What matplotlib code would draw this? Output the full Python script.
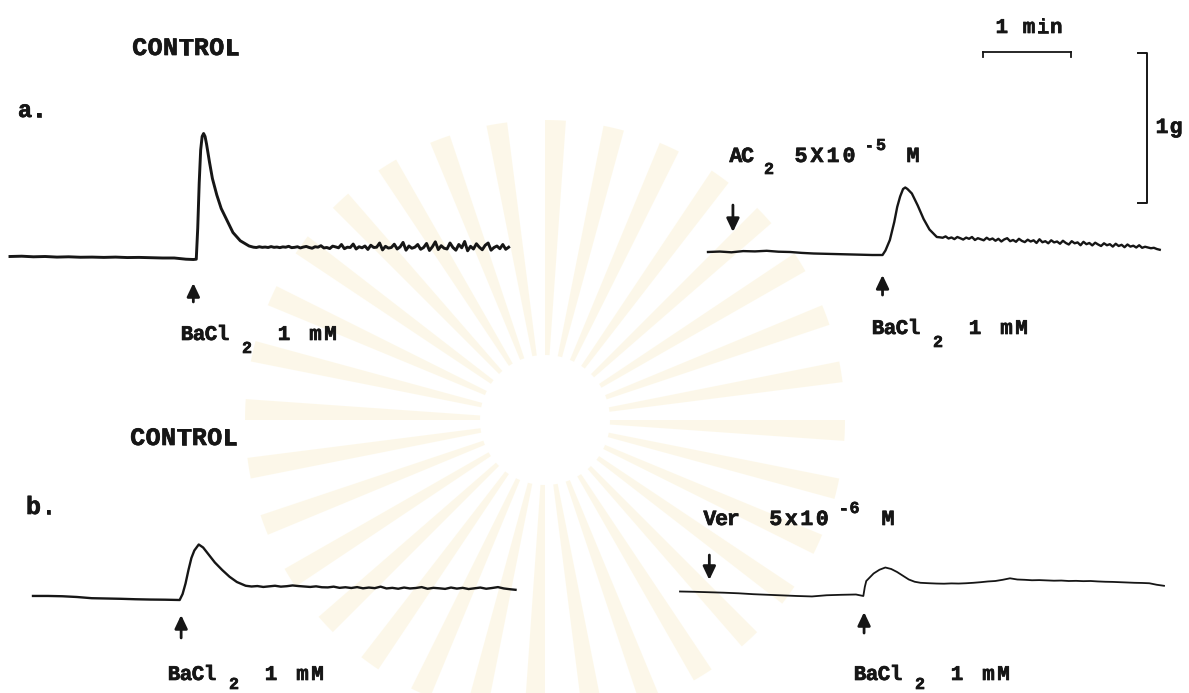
import numpy as np
import matplotlib
matplotlib.use("Agg")
import matplotlib.pyplot as plt
import matplotlib.patheffects as pe
from matplotlib.patches import Wedge

# ---------------- data (time in s, tension in g) ----------------
# Panel a, control
a_ctrl_t = [0, 8, 16, 24, 32, 40, 48, 56, 64, 72, 80, 88, 96, 104, 112, 120, 125,
            127, 128, 129, 130, 131, 132, 133, 134, 136, 138, 141, 144, 148, 152, 157, 163]
a_ctrl_g = [0.01, 0.012, 0.008, 0.01, 0.006, 0.008, 0.005, 0.006, 0.004, 0.006, 0.003,
            0.004, 0.002, 0.0, 0.0, -0.008, -0.01,
            -0.008, 0.2, 0.5, 0.72, 0.81, 0.83, 0.81, 0.76, 0.64, 0.53, 0.42, 0.33,
            0.25, 0.17, 0.115, 0.08]
a_ctrl_plateau_t0, a_ctrl_plateau_dt = 166, 2
a_ctrl_plateau_g = [0.072, 0.07, 0.075, 0.071, 0.073, 0.07, 0.076, 0.071, 0.073, 0.069,
                    0.074, 0.072, 0.078, 0.069, 0.071, 0.075, 0.067, 0.073, 0.077, 0.07,
                    0.065, 0.075, 0.072, 0.082, 0.067, 0.07, 0.063, 0.079, 0.074, 0.068,
                    0.09, 0.062, 0.072, 0.07, 0.093, 0.06, 0.075, 0.068, 0.08, 0.057,
                    0.085, 0.07, 0.072, 0.1, 0.054, 0.078, 0.066, 0.07, 0.092, 0.06,
                    0.074, 0.104, 0.052, 0.08, 0.065, 0.072, 0.09, 0.058, 0.07, 0.097,
                    0.05, 0.075, 0.108, 0.056, 0.082, 0.065, 0.06, 0.1, 0.07, 0.052,
                    0.09, 0.068, 0.11, 0.048, 0.078, 0.06, 0.095, 0.072, 0.055, 0.085,
                    0.1, 0.052, 0.07, 0.08, 0.062, 0.09, 0.058, 0.072]
a_ctrl_bacl2_t = 125

# Panel a, AC2 5x10^-5 M
a_ac2_t = [0, 8, 16, 24, 32, 40, 48, 56, 64, 72, 80, 88, 96, 104, 112, 118,
           119, 121, 124, 127, 129, 131, 133, 134.5, 136, 139, 143, 147, 151, 156]
a_ac2_g = [0.0, 0.003, -0.002, 0.006, 0.004, 0.008, 0.002, 0.0, -0.006, -0.01, -0.012,
           -0.014, -0.016, -0.018, -0.02, -0.02,
           -0.02, 0.01, 0.08, 0.2, 0.3, 0.37, 0.42, 0.43, 0.42, 0.39, 0.31, 0.22, 0.15, 0.1]
a_ac2_plateau_t0, a_ac2_plateau_dt = 158, 2
a_ac2_plateau_g = [0.098, 0.095, 0.104, 0.09, 0.097, 0.086, 0.1, 0.092, 0.083, 0.096,
                   0.088, 0.1, 0.08, 0.092, 0.085, 0.078, 0.095, 0.082, 0.09, 0.075,
                   0.088, 0.07, 0.084, 0.092, 0.072, 0.08, 0.068, 0.088, 0.074, 0.066,
                   0.082, 0.07, 0.078, 0.06, 0.085, 0.065, 0.072, 0.058, 0.078, 0.064,
                   0.07, 0.055, 0.075, 0.06, 0.05, 0.072, 0.058, 0.064, 0.045, 0.068,
                   0.052, 0.06, 0.044, 0.062, 0.05, 0.04, 0.058, 0.045, 0.052, 0.036,
                   0.055, 0.04, 0.048, 0.032, 0.05, 0.036, 0.042, 0.03, 0.045, 0.028,
                   0.035, 0.03, 0.025, 0.028, 0.02, 0.015]
a_ac2_drug_t = 17
a_ac2_bacl2_t = 119

# Panel b, control
b_ctrl_t = [0, 10, 20, 30, 40, 50, 60, 70, 80, 90,
            100, 102, 104, 106, 108, 110, 113, 116, 120, 124, 129, 134, 139, 145]
b_ctrl_g = [0.027, 0.027, 0.025, 0.02, 0.012, 0.01, 0.008, 0.005, 0.003, 0.002,
            0.0, 0.04, 0.11, 0.2, 0.28, 0.33, 0.37, 0.35, 0.3, 0.25, 0.2, 0.155, 0.12, 0.095]
b_ctrl_plateau_t0, b_ctrl_plateau_dt = 149, 4
b_ctrl_plateau_g = [0.09, 0.093, 0.087, 0.091, 0.095, 0.089, 0.092, 0.097, 0.093, 0.09,
                    0.087, 0.091, 0.085, 0.084, 0.089, 0.081, 0.085, 0.08, 0.086, 0.078,
                    0.083, 0.079, 0.089, 0.077, 0.081, 0.075, 0.083, 0.077, 0.08, 0.086,
                    0.075, 0.081, 0.078, 0.074, 0.083, 0.076, 0.081, 0.073, 0.078, 0.083,
                    0.075, 0.08, 0.086, 0.077, 0.072, 0.068]
b_ctrl_bacl2_t = 101

# Panel b, verapamil 5x10^-6 M
b_ver_t = [0, 10, 20, 30, 40, 50, 60, 70, 80, 90, 100, 110, 120, 125,
           126, 127, 129, 132, 136, 140, 144, 148, 152, 156, 160, 164]
b_ver_g = [0.03, 0.028, 0.025, 0.022, 0.018, 0.012, 0.008, 0.004, 0.0, -0.003, 0.005,
           0.008, 0.01, 0.0,
           0.06, 0.1, 0.12, 0.15, 0.175, 0.19, 0.18, 0.16, 0.135, 0.11, 0.095, 0.088]
b_ver_plateau_t0, b_ver_plateau_dt = 170, 5
b_ver_plateau_g = [0.085, 0.083, 0.082, 0.084, 0.083, 0.085, 0.088, 0.092, 0.097, 0.1,
                   0.108, 0.118, 0.11, 0.108, 0.105, 0.106, 0.104, 0.102, 0.103, 0.1,
                   0.101, 0.099, 0.1, 0.097, 0.095, 0.094, 0.092, 0.09, 0.088, 0.087,
                   0.085, 0.075, 0.068]
b_ver_drug_t = 20
b_ver_bacl2_t = 125.5

# scale bars
scale_time_s = 60
scale_force_g = 1

# ---------------- layout ----------------
W, H, DPI = 1189, 693, 100
PXS = 88 / 60.0   # pixels per second
PXG = 150.0       # pixels per gram
INK = "#161616"
FONT = "Liberation Mono"
BOLDER = [pe.withStroke(linewidth=0.5, foreground=INK)]

fig = plt.figure(figsize=(W / DPI, H / DPI), dpi=DPI)
fig.patch.set_facecolor("white")

ov = fig.add_axes([0, 0, 1, 1])
ov.set_xlim(0, W)
ov.set_ylim(H, 0)
ov.axis("off")

# faint watermark rays (scanned page background)
for k in range(32):
    th = k * 11.25
    ov.add_patch(Wedge((545, 420), 300, th, th + 4.0, width=235,
                       facecolor="#fcf5e0", edgecolor="none", alpha=0.7, zorder=0))


def full_trace(t, g, t0, dt, pg):
    tt = list(t) + list(t0 + dt * np.arange(len(pg)))
    gg = list(g) + list(pg)
    return tt, gg


def panel(x0, base, tmax, ytop, ybot):
    ax = fig.add_axes([x0 / W, 1 - ybot / H, tmax * PXS / W, (ybot - ytop) / H])
    ax.set_xlim(0, tmax)
    ax.set_ylim((base - ybot) / PXG, (base - ytop) / PXG)
    ax.axis("off")
    ax.patch.set_alpha(0)
    return ax


def arrow(ax, t, g_tail, g_tip):
    ax.annotate("", xy=(t, g_tip), xytext=(t, g_tail),
                arrowprops=dict(arrowstyle="-|>,head_length=0.8,head_width=0.38",
                                lw=2.0, color=INK, shrinkA=0, shrinkB=0),
                annotation_clip=False)


def typed(x, y, s, pitch, fs):
    for i, ch in enumerate(s):
        ov.text(x + i * pitch + pitch / 2, y, ch, fontsize=fs, family=FONT,
                weight="bold", color=INK, va="baseline", ha="center",
                path_effects=BOLDER)


def chem(x0, y, drop):
    typed(x0, y, "BaCl", 12, 15)
    typed(x0 + 60, y + drop, "2", 12, 12)
    typed(x0 + 97, y, "1", 12, 15)
    typed(x0 + 127, y, "mM", 15, 15)


# panel a control
ax1 = panel(10, 258, 341, 0, 380)
t, g = full_trace(a_ctrl_t, a_ctrl_g, a_ctrl_plateau_t0, a_ctrl_plateau_dt, a_ctrl_plateau_g)
ax1.plot(t, g, color=INK, lw=2.1, solid_joinstyle="round", clip_on=False)
arrow(ax1, a_ctrl_bacl2_t, -0.293, -0.167)

# panel a AC2
ax2 = panel(708, 252, 310, 0, 380)
t, g = full_trace(a_ac2_t, a_ac2_g, a_ac2_plateau_t0, a_ac2_plateau_dt, a_ac2_plateau_g)
ax2.plot(t, g, color=INK, lw=1.7, solid_joinstyle="round", clip_on=False)
arrow(ax2, a_ac2_drug_t, 0.313, 0.133)
arrow(ax2, a_ac2_bacl2_t, -0.287, -0.153)
sx0, sy = 187.5, 1.333
ax2.plot([sx0, sx0 + scale_time_s], [sy, sy], color=INK, lw=1.3, clip_on=False)
ax2.plot([sx0, sx0], [sy, sy - 0.035], color=INK, lw=1.3, clip_on=False)
ax2.plot([sx0 + scale_time_s] * 2, [sy, sy - 0.035], color=INK, lw=1.3, clip_on=False)
vx, vtop = 299.3, 1.327
ax2.plot([vx - 6, vx, vx, vx - 6], [vtop, vtop, vtop - scale_force_g, vtop - scale_force_g],
         color=INK, lw=1.4, clip_on=False)

# panel b control
ax3 = panel(33, 600, 332, 380, 693)
t, g = full_trace(b_ctrl_t, b_ctrl_g, b_ctrl_plateau_t0, b_ctrl_plateau_dt, b_ctrl_plateau_g)
ax3.plot(t, g, color=INK, lw=1.7, solid_joinstyle="round", clip_on=False)
arrow(ax3, b_ctrl_bacl2_t, -0.253, -0.1)

# panel b verapamil
ax4 = panel(680, 596, 333, 380, 693)
t, g = full_trace(b_ver_t, b_ver_g, b_ver_plateau_t0, b_ver_plateau_dt, b_ver_plateau_g)
ax4.plot(t, g, color=INK, lw=1.3, solid_joinstyle="round", clip_on=False)
arrow(ax4, b_ver_drug_t, 0.273, 0.107)
arrow(ax4, b_ver_bacl2_t, -0.247, -0.107)

# ---------------- text ----------------
typed(132, 55, "CONTROL", 15.4, 18)
typed(18, 117, "a.", 14, 17)
chem(181, 340, 13)
chem(872, 334, 13)

typed(730, 162, "AC", 11.7, 15.5)
typed(763, 174, "2", 12, 12)
typed(793, 162, "5X10", 16, 15.5)
typed(863, 150, "-5", 12, 12)
typed(906, 162, "M", 14, 15.5)

typed(995, 33, "1 min", 13.6, 15)
typed(1155, 133, "1g", 14, 15.5)

typed(130, 445, "CONTROL", 15.4, 18)
typed(26, 514, "b.", 15, 18)
chem(168, 680, 9)
chem(854, 680, 9)

typed(704, 525, "Ver", 11.7, 15.5)
typed(768, 525, "5x10", 15.5, 15.5)
typed(838, 513, "-6", 11, 12)
typed(881, 525, "M", 14, 15.5)

fig.savefig("out.png", dpi=DPI, facecolor="white")
